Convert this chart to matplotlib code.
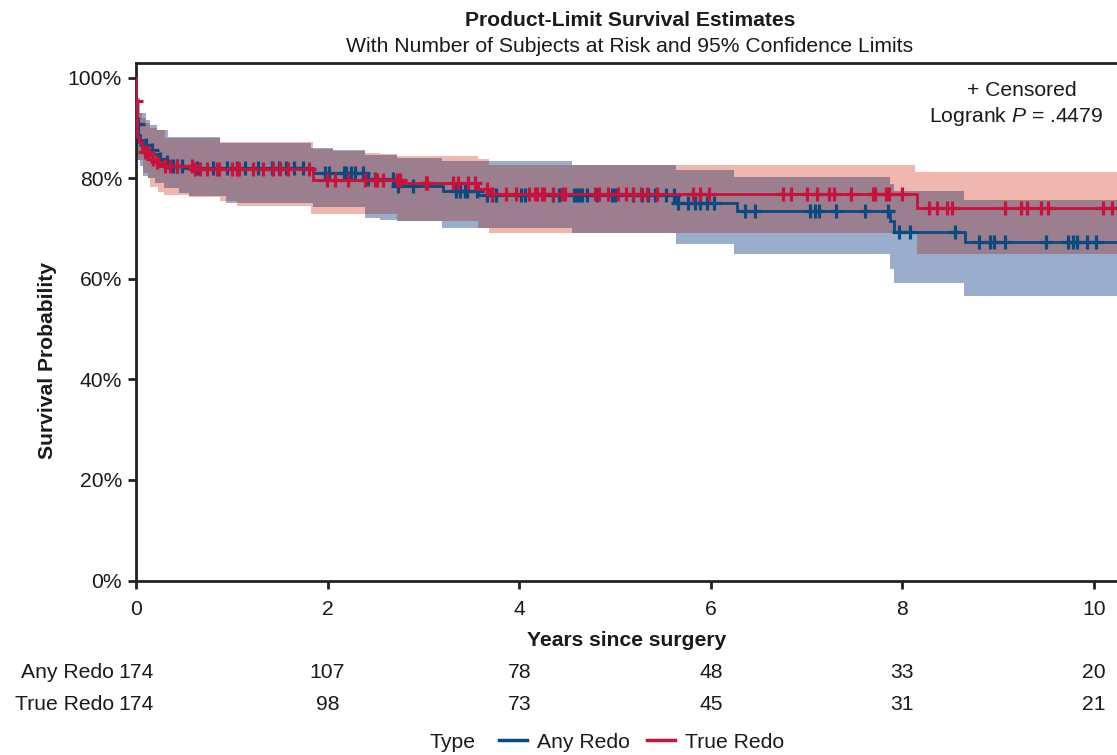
import numpy as np
import matplotlib
matplotlib.use("Agg")
import matplotlib.pyplot as plt
import matplotlib.transforms as mtransforms
from matplotlib.lines import Line2D

plt.rcParams['font.family'] = ['Liberation Sans', 'DejaVu Sans']
plt.rcParams['mathtext.fontset'] = 'custom'
plt.rcParams['mathtext.rm'] = 'Liberation Sans'
plt.rcParams['mathtext.it'] = 'Liberation Sans:italic'

# ---------------- data ----------------
# Any Redo survival (step, post)
any_t = [0, 0.001, 0.025, 0.045, 0.07, 0.12, 0.17, 0.23, 0.27, 0.33, 0.5, 1.85, 2.39, 2.7, 3.2, 3.57, 5.63, 6.27, 7.87, 7.91, 8.65]
any_s = [100, 90.8, 88.5, 87.5, 86.5, 85.5, 84.8, 83.8, 83.2, 82.5, 82.1, 81.0, 79.8, 78.5, 77.4, 76.6, 75.0, 73.4, 71.4, 69.3, 67.3]
# True Redo survival
true_t = [0, 0.004, 0.012, 0.035, 0.06, 0.094, 0.146, 0.18, 0.216, 0.268, 0.6, 1.85, 2.76, 3.57, 3.68, 8.15]
true_s = [100, 95.4, 88.1, 87.1, 85.8, 85.1, 84.5, 83.8, 83.2, 82.5, 81.8, 79.6, 79.0, 77.9, 76.9, 74.0]

# 95% confidence limits
any_up_t = [0, 0.01, 0.04, 0.1, 0.15, 0.22, 0.33, 0.88, 1.83, 2.06, 2.39, 2.72, 3.19, 4.55, 5.64, 6.24, 7.87, 7.91, 8.64]
any_up = [100, 96, 93, 91.5, 90.5, 89.5, 88.1, 87.0, 86.0, 85.6, 84.5, 84.0, 83.4, 82.6, 81.6, 80.2, 78.8, 77.5, 75.7]
any_lo_t = [0, 0.003, 0.012, 0.04, 0.076, 0.13, 0.2, 0.29, 0.45, 0.55, 0.94, 1.85, 2.39, 2.55, 2.72, 3.19, 4.55, 5.64, 6.24, 7.87, 7.91, 8.64]
any_lo = [100, 86.0, 83.5, 82.5, 80.5, 80.0, 79.0, 78.0, 77.0, 76.5, 75.0, 74.2, 72.1, 71.6, 71.4, 70.1, 69.0, 66.9, 65.0, 62.0, 59.1, 56.5]
true_up_t = [0, 0.004, 0.012, 0.035, 0.06, 0.1, 0.15, 0.22, 0.3, 0.88, 1.85, 2.06, 2.39, 2.55, 2.72, 3.57, 3.68, 8.13]
true_up = [100, 99, 95, 93, 92, 91, 90, 89.5, 88.0, 87.1, 85.8, 85.4, 85.0, 84.7, 84.3, 83.7, 82.6, 81.2]
true_lo_t = [0, 0.004, 0.012, 0.024, 0.076, 0.13, 0.146, 0.23, 0.29, 0.55, 0.88, 1.05, 1.83, 2.72, 3.57, 3.68, 8.15]
true_lo = [100, 90, 84.0, 83.5, 81, 80, 78.2, 77.2, 76.6, 76.2, 75.5, 74.4, 72.9, 71.4, 70.1, 69.0, 65.0]

# censoring times
any_cens = [0.003, 0.02, 0.104, 0.164, 0.251, 0.320, 0.389, 0.425, 0.477, 0.634, 0.807, 0.947, 1.051, 1.138,
            1.277, 1.416, 1.496, 1.566, 1.649, 1.746, 1.973, 2.018, 2.171, 2.192, 2.241, 2.286, 2.373, 2.425,
            2.495, 2.680, 2.738, 2.888, 3.340, 3.382, 3.434, 3.458, 3.563, 3.667, 3.713, 3.758, 4.019, 4.061,
            4.356, 4.419, 4.572, 4.600, 4.627, 4.652, 4.711, 4.815, 4.966, 5.000, 5.191, 5.279, 5.348, 5.418,
            5.532, 5.616, 5.661, 5.765, 5.835, 5.887, 5.963, 6.037, 6.357, 6.461, 7.035, 7.088, 7.129, 7.304,
            7.613, 7.853, 7.968, 8.079, 8.549, 8.803, 8.914, 8.959, 9.074, 9.499, 9.732, 9.778, 9.820, 9.930,
            10.021]
true_cens = [0.005, 0.094, 0.128, 0.181, 0.216, 0.303, 0.355, 0.425, 0.581, 0.616, 0.668, 0.738, 0.842, 0.869,
             0.999, 1.057, 1.078, 1.224, 1.329, 1.433, 1.503, 1.589, 1.809, 1.997, 2.077, 2.216, 2.390, 2.495,
             2.513, 2.581, 2.721, 2.756, 3.027, 3.034, 3.312, 3.364, 3.469, 3.539, 3.667, 3.719, 3.862, 3.967,
             4.105, 4.165, 4.183, 4.235, 4.259, 4.350, 4.444, 4.478, 4.791, 4.836, 4.930, 5.034, 5.115, 5.185,
             5.268, 5.337, 5.441, 5.811, 5.887, 5.984, 6.751, 6.834, 7.007, 7.112, 7.237, 7.289, 7.460, 7.690,
             7.717, 7.829, 7.863, 7.993, 8.281, 8.364, 8.463, 8.515, 9.071, 9.235, 9.304, 9.443, 9.523, 10.097,
             10.185]

risk_times = [0, 2, 4, 6, 8, 10]
risk_any = [174, 107, 78, 48, 33, 20]
risk_true = [174, 98, 73, 45, 31, 21]
x_ticks = [0, 2, 4, 6, 8, 10]
y_ticks = [0, 20, 40, 60, 80, 100]

# ---------------- style ----------------
C_ANY = '#0b4a80'
C_TRUE = '#c8123c'
C_ANY_BAND = '#9aadcc'
C_TRUE_BAND = '#f0b7af'
C_OVER = '#9c7f8f'
TXT = '#1a1a1a'
XMAX = 10.24
FS = 15.2

def step_eval(ts, vs, grid):
    ts = np.asarray(ts, float); vs = np.asarray(vs, float)
    idx = np.searchsorted(ts, grid, side='right') - 1
    idx = np.clip(idx, 0, len(vs) - 1)
    return vs[idx]

fig = plt.figure(figsize=(11.17, 7.55), dpi=100)
ax = fig.add_axes([136 / 1117, (755 - 580.5) / 755, (1117 - 136) / 1117, (580.5 - 63) / 755])

grid = np.array(sorted(set(any_up_t + any_lo_t + true_up_t + true_lo_t + any_t + true_t + [XMAX + 0.2])))
a_hi = step_eval(any_up_t, any_up, grid)
a_lo = step_eval(any_lo_t, any_lo, grid)
r_hi = step_eval(true_up_t, true_up, grid)
r_lo = step_eval(true_lo_t, true_lo, grid)
o_lo = np.maximum(a_lo, r_lo)
o_hi = np.maximum(np.minimum(a_hi, r_hi), o_lo)

ax.fill_between(grid, a_lo, a_hi, step='post', color=C_ANY_BAND, lw=0, zorder=1)
ax.fill_between(grid, r_lo, r_hi, step='post', color=C_TRUE_BAND, lw=0, zorder=1.1)
ax.fill_between(grid, o_lo, o_hi, step='post', color=C_OVER, lw=0, zorder=1.2)

for ts, ss, cens, col, z in [(any_t, any_s, any_cens, C_ANY, 3), (true_t, true_s, true_cens, C_TRUE, 4)]:
    xs = list(ts) + [XMAX + 0.2]
    ys = list(ss) + [ss[-1]]
    ax.step(xs, ys, where='post', color=col, lw=2.0, zorder=z, solid_joinstyle='miter')
    cy = step_eval(ts, ss, np.asarray(cens))
    ax.plot(cens, cy, ls='none', marker='+', ms=10, mew=2.3, color=col, zorder=z)

ax.set_xlim(0, XMAX)
ax.set_ylim(0, (580.5 - 63) / 5.03)
ax.set_xticks(x_ticks)
ax.set_yticks(y_ticks)
ax.set_yticklabels([f'{v}%' for v in y_ticks])
for sp in ['left', 'bottom', 'top']:
    ax.spines[sp].set_linewidth(2.0)
    ax.spines[sp].set_color('#222222')
ax.spines['right'].set_visible(False)
ax.tick_params(axis='both', direction='out', length=6, width=2.0, color='#222222',
               labelsize=FS, labelcolor=TXT)
ax.tick_params(axis='y', pad=4)
ax.tick_params(axis='x', pad=8)
ax.set_xlabel('Years since surgery', fontsize=FS, fontweight='bold', color=TXT, labelpad=9)
ax.set_ylabel('Survival Probability', fontsize=FS, fontweight='bold', color=TXT)
ax.yaxis.set_label_coords((57 - 136) / 981, (580.5 - 360) / 517.5)

fig.text(630 / 1117, 1 - 20 / 755, 'Product-Limit Survival Estimates', ha='center', va='center',
         fontsize=FS, fontweight='bold', color=TXT)
fig.text(630 / 1117, 1 - 46 / 755, 'With Number of Subjects at Risk and 95% Confidence Limits',
         ha='center', va='center', fontsize=FS, color=TXT)

ax.text(1022 / 1117, 1 - 91 / 755, '+ Censored', transform=fig.transFigure, ha='center', va='center',
        fontsize=FS, color=TXT)
ax.text(1016 / 1117, 1 - 117 / 755, r'Logrank $P$ = .4479', transform=fig.transFigure, ha='center',
        va='center', fontsize=FS, color=TXT)

# at-risk table
tr = mtransforms.blended_transform_factory(ax.transData, fig.transFigure)
for row_y, lab, vals in [(1 - 673 / 755, 'Any Redo', risk_any), (1 - 705 / 755, 'True Redo', risk_true)]:
    fig.text(114 / 1117, row_y, lab, ha='right', va='center', fontsize=FS, color=TXT)
    for t, v in zip(risk_times, vals):
        ax.text(t, row_y, str(v), transform=tr, ha='center', va='center', fontsize=FS, color=TXT,
                clip_on=False)

# legend
ly = 1 - 743 / 755
fig.text(453 / 1117, ly, 'Type', ha='center', va='center', fontsize=FS, color=TXT)
fig.add_artist(Line2D([499 / 1117, 527 / 1117], [1 - 740 / 755] * 2, color=C_ANY, lw=2.5, transform=fig.transFigure))
fig.text(537 / 1117, ly, 'Any Redo', ha='left', va='center', fontsize=FS, color=TXT)
fig.add_artist(Line2D([647 / 1117, 675 / 1117], [1 - 740 / 755] * 2, color=C_TRUE, lw=2.5, transform=fig.transFigure))
fig.text(685 / 1117, ly, 'True Redo', ha='left', va='center', fontsize=FS, color=TXT)

fig.savefig('out.png', dpi=100)
